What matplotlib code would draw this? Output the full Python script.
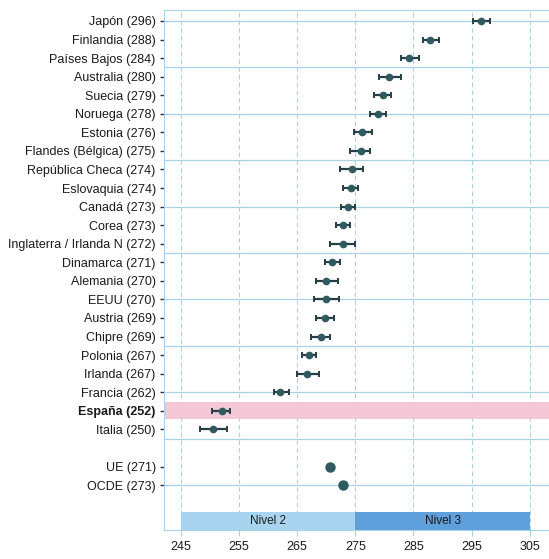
import numpy as np
import matplotlib
matplotlib.use('Agg')
import matplotlib.pyplot as plt

plt.rcParams['font.family'] = ['Liberation Sans', 'DejaVu Sans']

paises = ['Japón (296)', 'Finlandia (288)', 'Países Bajos (284)', 'Australia (280)',
          'Suecia (279)', 'Noruega (278)', 'Estonia (276)', 'Flandes (Bélgica) (275)',
          'República Checa (274)', 'Eslovaquia (274)', 'Canadá (273)', 'Corea (273)',
          'Inglaterra / Irlanda N (272)', 'Dinamarca (271)', 'Alemania (270)', 'EEUU (270)',
          'Austria (269)', 'Chipre (269)', 'Polonia (267)', 'Irlanda (267)',
          'Francia (262)', 'España (252)', 'Italia (250)']
media = [296.6, 287.9, 284.3, 280.8, 279.7, 278.9, 276.2, 275.9, 274.4, 274.2, 273.7,
         272.9, 272.8, 271.0, 270.0, 270.0, 269.7, 269.1, 267.0, 266.7, 262.1, 252.0, 250.6]
ic_inf = [295.2, 286.6, 282.9, 279.0, 278.2, 277.6, 274.8, 274.0, 272.3, 272.9, 272.5,
          271.7, 270.6, 269.7, 268.2, 267.9, 268.3, 267.3, 265.8, 264.9, 261.0, 250.4, 248.3]
ic_sup = [298.2, 289.3, 285.9, 282.8, 281.1, 280.2, 277.8, 277.6, 276.3, 275.5, 274.9,
          274.0, 274.9, 272.3, 272.0, 272.2, 271.3, 270.6, 268.3, 268.7, 263.6, 253.5, 252.9]

medias_ref = ['UE (271)', 'OCDE (273)']
media_ref = [270.6, 272.9]

niveles = ['Nivel 2', 'Nivel 3']
nivel_desde = [245, 275]
nivel_hasta = [275, 305]
nivel_color = ['#a9d4ef', '#5f9fdc']

azul = '#a6d3e8'
punto = '#2e5a60'

fig = plt.figure(figsize=(5.49, 5.59), dpi=100)
ax = fig.add_axes([164 / 549, 1 - 530 / 559, 1 - 164 / 549, 520 / 559])

y = np.arange(len(paises))
y_ref = np.arange(len(paises) + 1, len(paises) + 1 + len(medias_ref))

# franja de España
i_esp = paises.index('España (252)')
ax.axhspan(i_esp - 0.45, i_esp + 0.42, color='#f3c7d5', zorder=1, lw=0)

# lineas horizontales cada 2.5 filas
for yy in np.arange(0, 26, 2.5):
    ax.axhline(yy, color=azul, lw=0.9, zorder=0.5)

media = np.array(media)
err = [media - np.array(ic_inf), np.array(ic_sup) - media]
ax.errorbar(media, y, xerr=err, fmt='o', color=punto, ecolor='#263f44', ms=4.5, lw=1.6,
            capsize=2.5, capthick=1.4, zorder=4)
ax.plot(media_ref, y_ref, 'o', color=punto, ms=6.5, zorder=4)

# barras de nivel
for nom, a, b, c in zip(niveles, nivel_desde, nivel_hasta, nivel_color):
    ax.barh(26.93, b - a, left=a, height=0.97, color=c, zorder=3, lw=0)
    ax.text((a + b) / 2, 26.93, nom, ha='center', va='center', fontsize=8.5,
            color='#1a1a1a', zorder=5)

ax.set_xlim(242.1, 308.3)
ax.set_ylim(27.42, -0.59)

etiquetas = paises + medias_ref
ax.set_yticks(list(y) + list(y_ref))
ax.set_yticklabels(etiquetas, fontsize=9, color='#1a1a1a')
for t in ax.get_yticklabels():
    if t.get_text().startswith('España'):
        t.set_fontweight('bold')
ax.tick_params(axis='y', length=3, width=1, color='#333333', pad=3)

ax.set_xticks(np.arange(245, 306, 10))
ax.tick_params(axis='x', length=4, color=azul, labelsize=9, labelcolor='#1a1a1a', pad=4)

ax.grid(axis='x', color=azul, lw=0.8, ls=(0, (4, 3)))
ax.set_axisbelow(True)

for s in ['left', 'top', 'bottom']:
    ax.spines[s].set_color(azul)
ax.spines['right'].set_visible(False)

fig.savefig('out.png', dpi=100)
